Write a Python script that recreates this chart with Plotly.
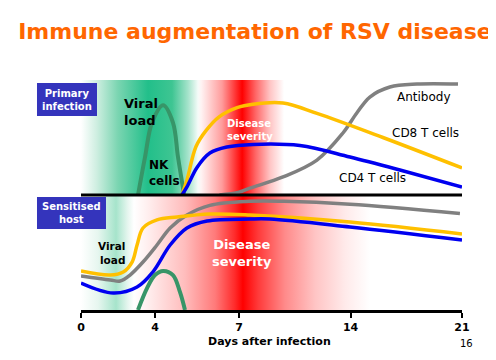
import numpy as np
import plotly.graph_objects as go

# ---- axis (schematic, non-linear day spacing as in the original slide) ----
TICK_DAYS = [0, 4, 7, 14, 21]
TICK_LABELS = ["0", "4", "7", "14", "21"]
TICK_POS = [0, 4.08, 8.71, 14.86, 21]


def X(d):
    return np.interp(d, TICK_DAYS, TICK_POS)


# ---- Primary infection panel (relative level 0-100) ----
viral_top_days = [3.08, 3.46, 3.84, 4.29, 4.64, 4.82, 5.04]
viral_top = [0, 33, 63, 78, 63, 33, 0]

cd8_top_days = [4.96, 5.14, 5.46, 5.82, 6.29, 6.93, 7.88, 9.76, 11.89, 16.03, 21]
cd8_top = [0, 13, 42, 56, 68, 76, 79, 80, 71, 50, 23.5]

cd4_top_days = [4.96, 5.14, 5.5, 5.96, 6.57, 7.88, 10.82, 13.96, 17.1, 21]
cd4_top = [0, 7, 24, 36.5, 41.7, 44, 43, 33, 21.7, 7]

ab_top_days = [6.3, 7.0, 7.69, 9.76, 11.89, 13.52, 14.39, 15.21, 16.47, 18.17, 20.75]
ab_top = [0, 2.5, 6, 15.7, 30.4, 53.9, 71.3, 85.2, 93.9, 96.5, 96.5]

# ---- Sensitised host panel ----
viral_bot_days = [3.08, 3.57, 4.0, 4.29, 4.64, 4.89, 5.07]
viral_bot = [0, 19, 30.4, 34, 30.4, 15.7, 0]

cd8_bot_days = [0, 1.58, 2.28, 2.76, 3.03, 3.35, 4.07, 4.79, 5.96, 7.69, 13.96, 21]
cd8_bot = [33.9, 30.4, 33, 41.7, 56.5, 71.3, 78.3, 80.9, 83.5, 82.6, 76.5, 66.1]

ab_bot_days = [0, 1.58, 2.12, 2.65, 3.35, 4.07, 4.54, 5.14, 5.96, 7.69, 9.8, 13.96, 20.87]
ab_bot = [29.6, 26.1, 25.2, 30.4, 41.7, 56.5, 71.3, 82.6, 91, 94.5, 94.5, 92, 84]

cd4_bot_days = [0, 1.74, 3.03, 3.88, 4.54, 5.14, 5.86, 7.69, 8.94, 13.96, 21]
cd4_bot = [23.5, 14.8, 20, 33, 56.5, 71.3, 77.4, 79.1, 79.1, 72.2, 60.9]

FONT = "DejaVu Sans"
YELLOW = "#ffc000"
BLUE = "#0000f0"
GRAY = "#808080"
GREEN = "#379568"

top_grad = [
    [0.0, "#ffffff"], [0.042, "#cdeee0"], [0.097, "#7ad5b1"], [0.176, "#22bf8a"],
    [0.239, "#3ec592"], [0.281, "#a5e3cb"], [0.307, "#f4fbf8"], [0.315, "#fff4f4"],
    [0.370, "#ff9c9c"], [0.423, "#ff0000"], [0.459, "#ff6868"], [0.496, "#ffc4c4"],
    [0.533, "#ffffff"], [1.0, "#ffffff"],
]
bot_grad = [
    [0.0, "#ffffff"], [0.045, "#e6f6ef"], [0.092, "#a6e4cb"], [0.123, "#e6f6ef"],
    [0.139, "#ffffff"], [0.181, "#ffecec"], [0.273, "#ffbcbc"], [0.352, "#ff7a7a"],
    [0.404, "#ff2a2a"], [0.425, "#ff0000"], [0.465, "#ff3a3a"], [0.535, "#ff8a8a"],
    [0.614, "#ffc4c4"], [0.693, "#ffeaea"], [0.759, "#ffffff"], [1.0, "#ffffff"],
]

fig = go.Figure()

x0, x1 = float(X(0)), float(X(21))
for grad, ax in [(top_grad, "y2"), (bot_grad, "y")]:
    fig.add_trace(go.Scatter(
        x=[x0, x1, x1, x0, x0], y=[0, 0, 100, 100, 0], yaxis=ax,
        mode="none", fill="toself", hoverinfo="skip", showlegend=False,
        fillgradient=dict(type="horizontal", colorscale=grad, start=x0, stop=x1),
    ))


def curve(days, vals, color, ax, width=3.5):
    fig.add_trace(go.Scatter(
        x=X(days), y=vals, yaxis=ax, mode="lines",
        line=dict(color=color, width=width, shape="spline", smoothing=1.0),
        hoverinfo="skip", showlegend=False,
    ))


curve(viral_top_days, viral_top, GREEN, "y2", 4)
curve(ab_top_days, ab_top, GRAY, "y2")
curve(cd8_top_days, cd8_top, YELLOW, "y2")
curve(cd4_top_days, cd4_top, BLUE, "y2")

curve(ab_bot_days, ab_bot, GRAY, "y")
curve(cd8_bot_days, cd8_bot, YELLOW, "y")
curve(cd4_bot_days, cd4_bot, BLUE, "y")
curve(viral_bot_days, viral_bot, GREEN, "y", 4)

BOX = "#3434bc"
shapes = [
    dict(type="line", xref="x", yref="paper", x0=x0, x1=x1, y0=0.5, y1=0.5,
         line=dict(color="black", width=3)),
    dict(type="rect", xref="paper", yref="paper", x0=-0.1155, x1=0.042, y0=0.843, y1=0.987,
         fillcolor=BOX, line=dict(width=0), layer="above"),
    dict(type="rect", xref="paper", yref="paper", x0=-0.1155, x1=0.0656, y0=0.352, y1=0.491,
         fillcolor=BOX, line=dict(width=0), layer="above"),
]


def ann(text, x, y, xref, yref, size, color="black", bold=False, xanchor="left", align="left"):
    t = "<b>" + text + "</b>" if bold else text
    return dict(text=t, x=x, y=y, xref=xref, yref=yref, showarrow=False,
                xanchor=xanchor, yanchor="middle", align=align,
                font=dict(family=FONT, size=size, color=color))


annotations = [
    ann("Primary<br>infection", -0.037, 0.915, "paper", "paper", 10, "white", True, "center", "center"),
    ann("Sensitised<br>host", -0.025, 0.422, "paper", "paper", 10, "white", True, "center", "center"),
    ann("Viral<br>load", float(X(2.22)), 72.6, "x", "y2", 13, bold=True),
    ann("NK<br>cells", float(X(3.57)), 18.7, "x", "y2", 12, bold=True),
    ann("Disease<br>severity", float(X(6.5)), 56.5, "x", "y2", 10, "white", True),
    ann("Antibody", float(X(16.79)), 85.2, "x", "y2", 12),
    ann("CD8 T cells", float(X(16.47)), 53.9, "x", "y2", 12),
    ann("CD4 T cells", float(X(13.14)), 14.8, "x", "y2", 12),
    ann("Viral<br>load", float(X(2.49)), 49.6, "x", "y", 10.5, bold=True, xanchor="right", align="right"),
    ann("Disease<br>severity", float(X(7.19)), 49.6, "x", "y", 13, "white", True, "center", "center"),
    ann("Days after infection", 0.496, -0.138, "paper", "paper", 11, bold=True, xanchor="center", align="center"),
    ann("16", 1.0105, -0.1435, "paper", "paper", 10, xanchor="center", align="center"),
]

# the page body adds an 8 px offset; the figure is sized/margined to compensate
fig.update_layout(
    width=488, height=352,
    margin=dict(l=73, r=34, t=72, b=50),
    paper_bgcolor="white", plot_bgcolor="white",
    showlegend=False,
    title=dict(text="<b>Immune augmentation of RSV disease</b>", x=0.506, xanchor="center",
               y=0.935, yanchor="middle",
               font=dict(family=FONT, size=22, color="#ff6600")),
    xaxis=dict(range=[x0, x1], tickvals=X(TICK_DAYS), ticktext=["<b>" + t + "</b>" for t in TICK_LABELS],
               showline=True, linewidth=3, linecolor="black", ticks="outside", ticklen=5,
               tickwidth=2, tickcolor="black", showgrid=False, zeroline=False,
               tickfont=dict(family=FONT, size=11, color="black"), fixedrange=True),
    yaxis=dict(domain=[0, 0.5], range=[0, 100], visible=False, fixedrange=True),
    yaxis2=dict(domain=[0.5, 1], range=[0, 100], visible=False, anchor="x", fixedrange=True),
    shapes=shapes, annotations=annotations,
)

fig.write_html("out.html")
